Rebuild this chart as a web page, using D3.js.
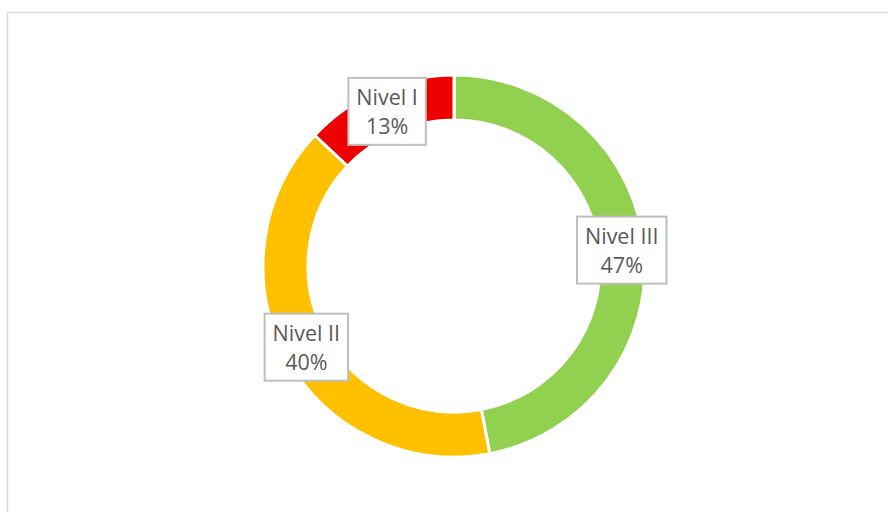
<!DOCTYPE html>
<html>
<head>
<meta charset="utf-8">
<script src="https://cdn.jsdelivr.net/npm/d3@7"></script>
<style>
  body { margin: 0; background: #fff; }
  svg { display: block; }
</style>
</head>
<body>
<svg></svg>
<script>
const categories = ["Nivel III", "Nivel II", "Nivel I"];
const values = [47, 40, 13];
const colors = ["#92d050", "#ffc000", "#ee0000"];

const width = 888;
const height = 512;
const cx = 454, cy = 266;
const outerR = 191, innerR = 146;

const svg = d3.select("svg").attr("width", width).attr("height", height);

// chart frame
svg.append("rect")
  .attr("x", 7.5).attr("y", 12.5)
  .attr("width", 900).attr("height", 520)
  .attr("fill", "#fff")
  .attr("stroke", "#d9d9d9")
  .attr("stroke-width", 1.5);

const data = categories.map((c, i) => ({ name: c, value: values[i], color: colors[i] }));
const total = d3.sum(values);

const pie = d3.pie().value(d => d.value).sort(null);
const arc = d3.arc().innerRadius(innerR).outerRadius(outerR);
const labelArc = d3.arc().innerRadius((innerR + outerR) / 2).outerRadius((innerR + outerR) / 2);

const g = svg.append("g").attr("transform", `translate(${cx},${cy})`);

const arcs = pie(data);

g.selectAll("path")
  .data(arcs)
  .enter()
  .append("path")
  .attr("d", arc)
  .attr("fill", d => d.data.color)
  .attr("stroke", "#fff")
  .attr("stroke-width", 3);

const labels = g.selectAll("g.label")
  .data(arcs)
  .enter()
  .append("g")
  .attr("class", "label")
  .attr("transform", d => `translate(${labelArc.centroid(d)})`);

labels.each(function(d) {
  const lg = d3.select(this);
  const box = lg.append("rect")
    .attr("fill", "#fff")
    .attr("stroke", "#bfbfbf")
    .attr("stroke-width", 2);
  const txt = lg.append("text")
    .attr("text-anchor", "middle")
    .attr("font-family", "'Open Sans', sans-serif")
    .attr("font-size", 21.5)
    .attr("fill", "#595959");
  txt.append("tspan").attr("x", 0).attr("y", -6).text(d.data.name);
  txt.append("tspan").attr("x", 0).attr("y", 23)
    .text(Math.round(d.data.value / total * 100) + "%");
  const bb = txt.node().getBBox();
  const w = bb.width + 16, h = 67;
  box.attr("x", -w / 2).attr("y", -h / 2).attr("width", w).attr("height", h);
});
</script>
</body>
</html>
